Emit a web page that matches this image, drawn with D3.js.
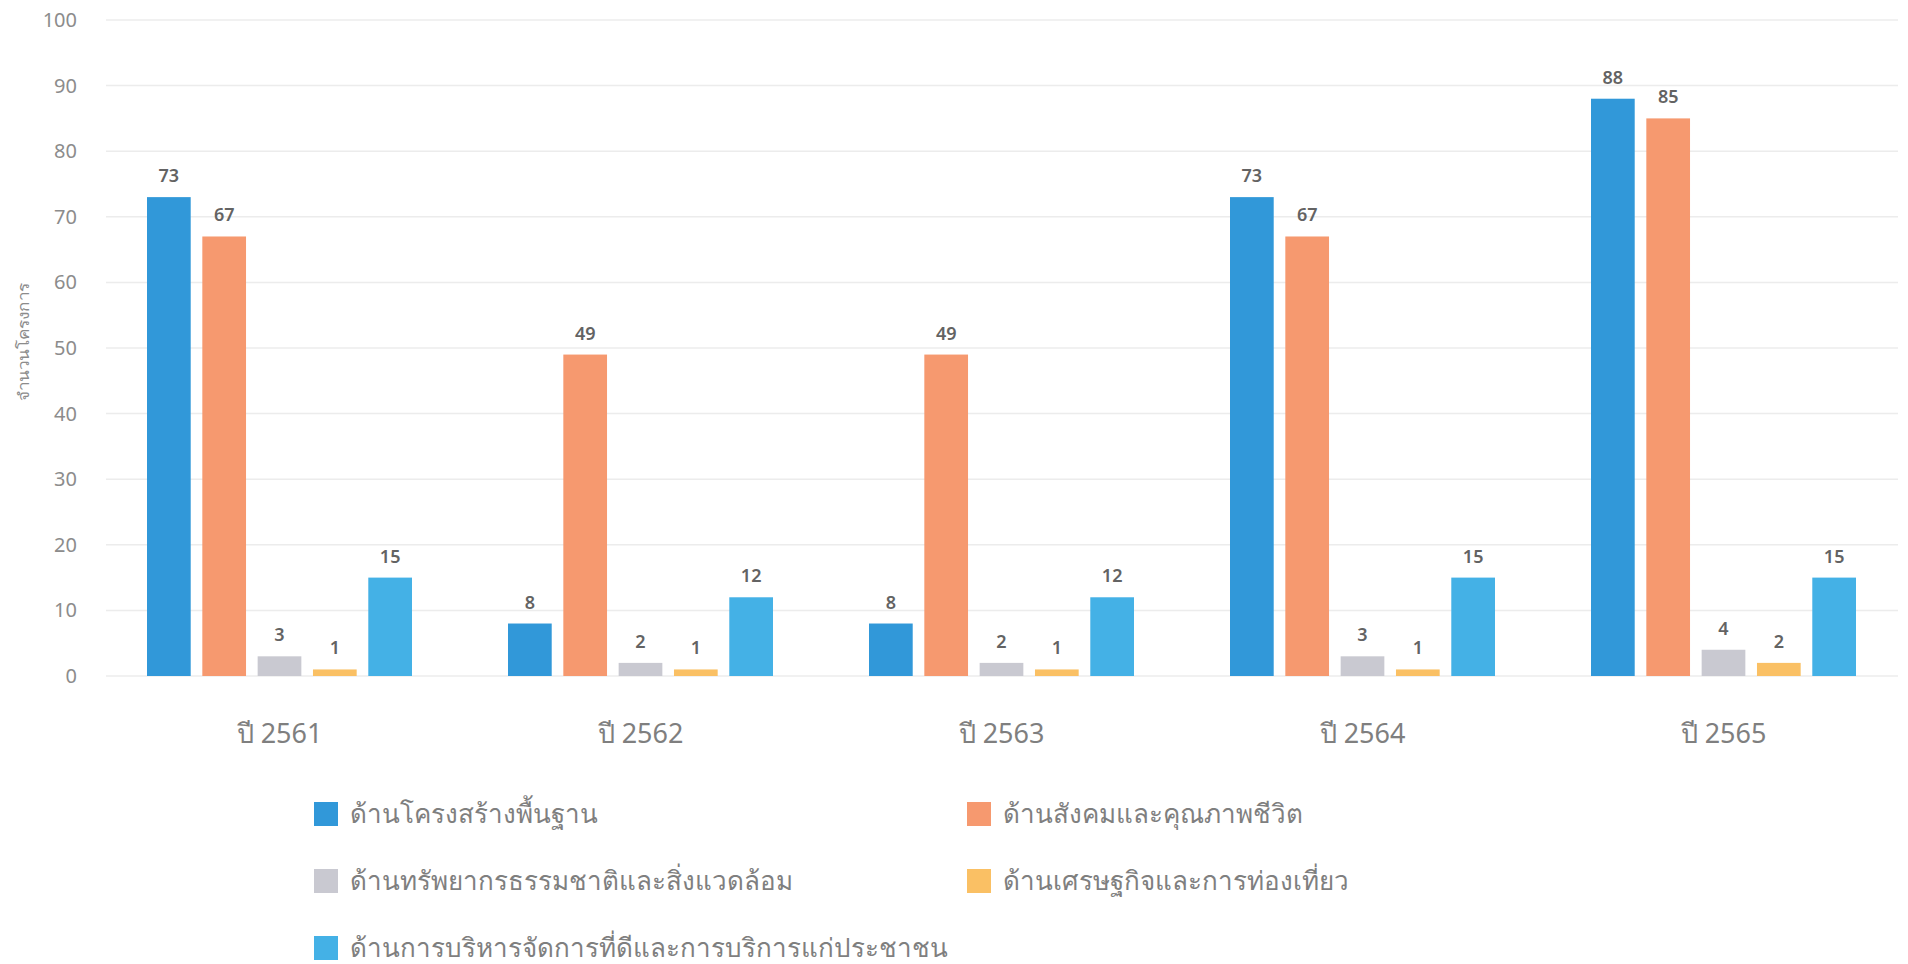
<!DOCTYPE html>
<html>
<head>
<meta charset="utf-8">
<script src="https://cdn.jsdelivr.net/npm/d3@7"></script>
<style>
  html, body { margin: 0; padding: 0; background: #ffffff; }
  svg { display: block; }
  text { font-family: "Noto Sans", "DejaVu Sans", sans-serif; }
</style>
</head>
<body>
<svg id="chart" width="1908" height="964"></svg>
<script>
const years = ["ปี 2561", "ปี 2562", "ปี 2563", "ปี 2564", "ปี 2565"];
const seriesNames = [
  "ด้านโครงสร้างพื้นฐาน",
  "ด้านสังคมและคุณภาพชีวิต",
  "ด้านทรัพยากรธรรมชาติและสิ่งแวดล้อม",
  "ด้านเศรษฐกิจและการท่องเที่ยว",
  "ด้านการบริหารจัดการที่ดีและการบริการแก่ประชาชน"
];
const infrastructure = [73, 8, 8, 73, 88];
const socialQuality = [67, 49, 49, 67, 85];
const naturalResources = [3, 2, 2, 3, 4];
const economyTourism = [1, 1, 1, 1, 2];
const goodGovernance = [15, 12, 12, 15, 15];
const yTicks = [0, 10, 20, 30, 40, 50, 60, 70, 80, 90, 100];
const yTitle = "จำนวนโครงการ";
const colors = ["#3198d9", "#f6996f", "#c9c9d1", "#fac064", "#44b1e6"];

const allSeries = [infrastructure, socialQuality, naturalResources, economyTourism, goodGovernance];

const svg = d3.select("#chart");

const y = d3.scaleLinear().domain([0, 100]).range([676, 20]);
const x0 = d3.scaleBand().domain(years).range([99, 1904]).padding(0);
const x1 = d3.scaleBand().domain(d3.range(seriesNames.length))
  .range([48, x0.bandwidth() - 48]).paddingInner(0.21).paddingOuter(0);

// gridlines
svg.append("g").selectAll("line").data(yTicks).join("line")
  .attr("x1", 106).attr("x2", 1898)
  .attr("y1", d => y(d)).attr("y2", d => y(d))
  .attr("stroke", "#ececec").attr("stroke-width", 1.5);

// y axis
const yAxis = svg.append("g").attr("transform", "translate(84,0)")
  .call(d3.axisLeft(y).tickValues(yTicks).tickSize(0).tickPadding(7));
yAxis.select(".domain").remove();
yAxis.selectAll("text").attr("font-size", 20).attr("fill", "#8c8c8c")
  .style("font-family", "'Noto Sans', sans-serif");

// y title
svg.append("text")
  .attr("transform", "translate(29,342) rotate(-90)")
  .attr("text-anchor", "middle")
  .attr("font-size", 15).attr("fill", "#8c8c8c")
  .attr("textLength", 118).attr("lengthAdjust", "spacingAndGlyphs")
  .text(yTitle);

// bars
const groups = svg.append("g").selectAll("g").data(years).join("g")
  .attr("transform", d => `translate(${x0(d)},0)`);

groups.each(function(year, yi) {
  const g = d3.select(this);
  const vals = allSeries.map((s, si) => ({ si, v: s[yi] }));
  g.selectAll("rect").data(vals).join("rect")
    .attr("x", d => x1(d.si))
    .attr("width", x1.bandwidth())
    .attr("y", d => y(d.v))
    .attr("height", d => y(0) - y(d.v))
    .attr("fill", d => colors[d.si]);
  g.selectAll("text.val").data(vals).join("text")
    .attr("class", "val")
    .attr("x", d => x1(d.si) + x1.bandwidth() / 2)
    .attr("y", d => y(d.v) - 15)
    .attr("text-anchor", "middle")
    .attr("font-size", 18).attr("font-weight", 600).attr("fill", "#636363")
    .text(d => d.v);
});

// x axis labels
const xAxis = svg.append("g").attr("transform", "translate(0,676)")
  .call(d3.axisBottom(x0).tickSize(0).tickPadding(67));
xAxis.select(".domain").remove();
xAxis.selectAll("text").attr("font-size", 27).attr("fill", "#7f7f7f")
  .attr("dy", "0")
  .style("font-family", "'Noto Sans', sans-serif");

// legend
const legendPos = [
  { x: 314, y: 814 }, { x: 967, y: 814 },
  { x: 314, y: 881 }, { x: 967, y: 881 },
  { x: 314, y: 948 }
];
const legend = svg.append("g").selectAll("g").data(seriesNames).join("g")
  .attr("transform", (d, i) => `translate(${legendPos[i].x},${legendPos[i].y})`);
legend.append("rect").attr("x", 0).attr("y", -12).attr("width", 24).attr("height", 24)
  .attr("fill", (d, i) => colors[i]);
legend.append("text").attr("x", 36).attr("y", 0).attr("dy", "0.35em")
  .attr("font-size", 26).attr("fill", "#7f7f7f")
  .text(d => d);
</script>
</body>
</html>
